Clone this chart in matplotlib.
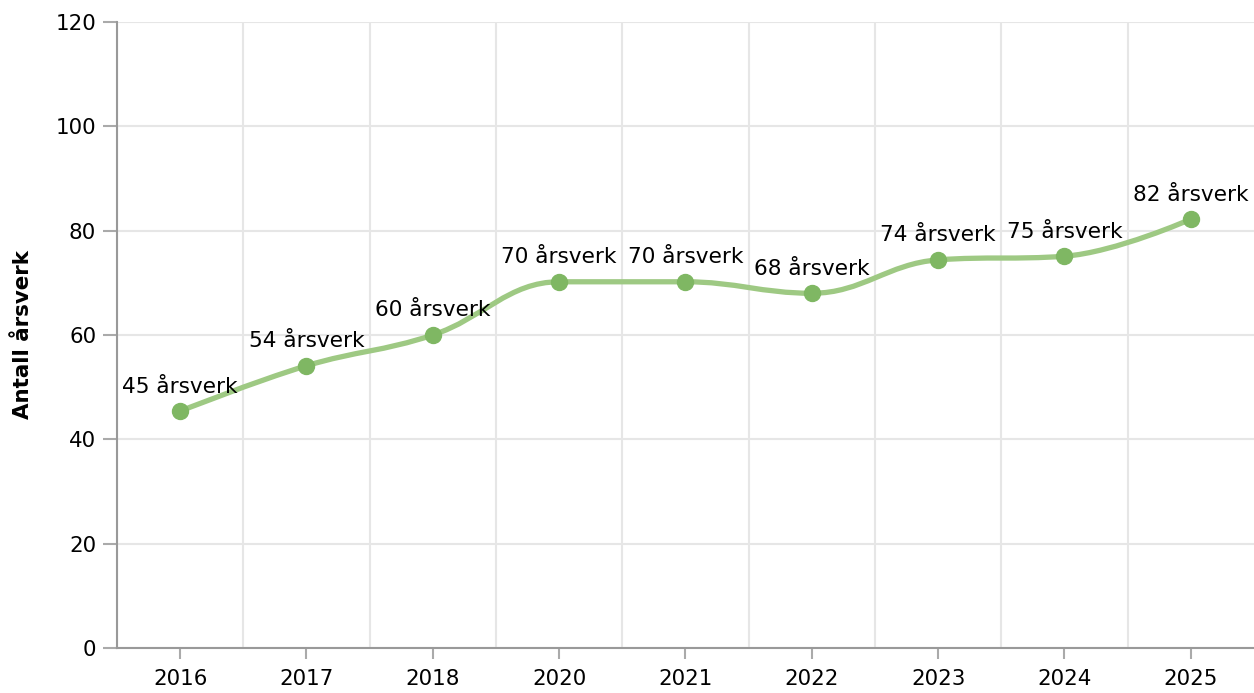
import matplotlib.pyplot as plt
import numpy as np
from matplotlib.path import Path
from matplotlib.patches import PathPatch

years = ["2016", "2017", "2018", "2020", "2021", "2022", "2023", "2024", "2025"]
values = [45.4, 54.1, 60.0, 70.2, 70.2, 68.0, 74.4, 75.1, 82.2]
labels = ["45 årsverk", "54 årsverk", "60 årsverk", "70 årsverk", "70 årsverk",
          "68 årsverk", "74 årsverk", "75 årsverk", "82 årsverk"]

plt.rcParams['font.family'] = ['DejaVu Sans']

fig = plt.figure(figsize=(12.54, 6.93), dpi=100)
ax = fig.add_axes([0.0933, 0.0649, 0.9067, 0.9034])

x = np.arange(len(years), dtype=float)
y = np.array(values)


# spline like highcharts (smoothing 1.5)
def spline_path(xs, ys):
    n = len(xs)
    sm, den = 1.5, 2.5
    lc = [(xs[i], ys[i]) for i in range(n)]
    rc = [(xs[i], ys[i]) for i in range(n)]
    for i in range(1, n - 1):
        px, py = xs[i], ys[i]
        lx, ly = xs[i - 1], ys[i - 1]
        nx, ny = xs[i + 1], ys[i + 1]
        lcx = (sm * px + lx) / den
        lcy = (sm * py + ly) / den
        rcx = (sm * px + nx) / den
        rcy = (sm * py + ny) / den
        if rcx != lcx:
            corr = (rcy - lcy) * (rcx - px) / (rcx - lcx) + py - rcy
            lcy += corr
            rcy += corr
        if lcy > ly and lcy > py:
            lcy = max(ly, py)
            rcy = 2 * py - lcy
        elif lcy < ly and lcy < py:
            lcy = min(ly, py)
            rcy = 2 * py - lcy
        if rcy > ny and rcy > py:
            rcy = max(ny, py)
            lcy = 2 * py - rcy
        elif rcy < ny and rcy < py:
            rcy = min(ny, py)
            lcy = 2 * py - rcy
        lc[i] = (lcx, lcy)
        rc[i] = (rcx, rcy)
    verts = [(xs[0], ys[0])]
    codes = [Path.MOVETO]
    for i in range(1, n):
        verts += [rc[i - 1], lc[i], (xs[i], ys[i])]
        codes += [Path.CURVE4] * 3
    return Path(verts, codes)


ax.add_patch(PathPatch(spline_path(x, y), facecolor='none', edgecolor='#9ec983',
                       lw=3.8, capstyle='round', zorder=3))
ax.plot(x, y, 'o', color='#7fb763', markersize=11.5, zorder=4)

for xi, yi, lab in zip(x, y, labels):
    ax.annotate(lab, (xi, yi), xytext=(0, 10.5), textcoords='offset points',
                ha='center', va='bottom', fontsize=15.6, color='black', zorder=5)

ax.set_xlim(-0.5, len(years) - 0.5)
ax.set_ylim(0, 120)
ax.set_yticks(np.arange(0, 121, 20))
ax.set_xticks(x)
ax.set_xticklabels(years)
ax.set_xticks(np.arange(-0.5, len(years) - 0.5, 1.0), minor=True)

ax.grid(axis='y', color='#e6e6e6', lw=1.5, zorder=0)
ax.grid(axis='x', which='minor', color='#e6e6e6', lw=1.5, zorder=0)
ax.tick_params(axis='x', which='minor', length=0)
ax.tick_params(axis='x', which='major', length=8, width=1.5, color='#aaaaaa',
               labelsize=15.4, pad=7)
ax.tick_params(axis='y', length=10, width=1.5, color='#aaaaaa', labelsize=15.4, pad=5)

for s in ['top', 'right']:
    ax.spines[s].set_visible(False)
for s in ['left', 'bottom']:
    ax.spines[s].set_color('#999999')
    ax.spines[s].set_linewidth(1.5)

ax.set_ylabel('Antall årsverk', fontsize=15.4, fontweight='bold', labelpad=16)

fig.savefig('out.png', dpi=100)
